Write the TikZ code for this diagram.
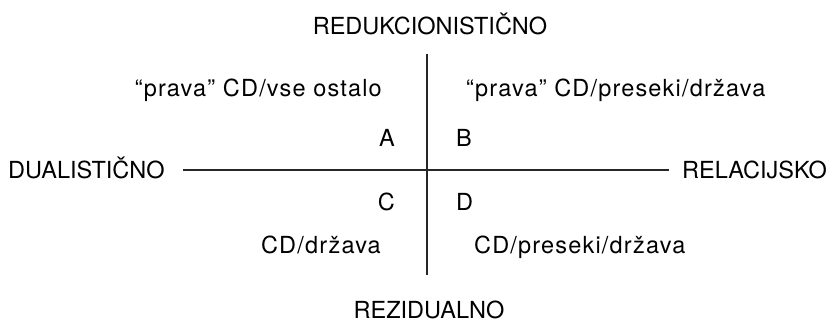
\documentclass[tikz,border=0pt]{standalone}
\usepackage{fontspec}
\setmainfont{TeX Gyre Heros}
\newfontfamily\spacedfont[LetterSpace=5]{TeX Gyre Heros}
\usepackage{tikz}

\begin{document}
\begin{tikzpicture}[x=1pt,y=-1pt,every node/.style={inner sep=0pt},
		font=\fontsize{23.5}{28}\selectfont,
		quad/.style={font=\fontsize{23.5}{28}\spacedfont}]
		\useasboundingbox (0,0) rectangle (834,322);
		\node[anchor=base] (R) at (430,34) {REDUKCIONISTIČNO};
		\node[anchor=base] (Z) at (429,318) {REZIDUALNO};
		\node[anchor=base west] (Du) at (8,178) {DUALISTIČNO};
		\node[anchor=base east] (Re) at (827,178) {RELACIJSKO};
		%
		\node[quad,anchor=base east] (qA) at (382,96) {“prava” CD/vse ostalo};
		\node[quad,anchor=base west] (qB) at (466,96) {“prava” CD/preseki/država};
		\node[quad,anchor=base east] (qC) at (381,253) {CD/država};
		\node[quad,anchor=base west] (qD) at (474,253) {CD/preseki/država};
		%
		\node[anchor=base east] (A) at (395,146) {A};
		\node[anchor=base west] (B) at (456,146) {B};
		\node[anchor=base east] (C) at (395,210) {C};
		\node[anchor=base west] (D) at (456,210) {D};
		%
		\coordinate (top) at (427,54);
		\coordinate (bot) at (427,275);
		\coordinate (lft) at (183,170);
		\coordinate (rgt) at (669,170);
		\path[line width=1.5pt,draw=black!85]
			(top) edge (bot)
			(lft) edge (rgt);
	\end{tikzpicture}
\end{document}
